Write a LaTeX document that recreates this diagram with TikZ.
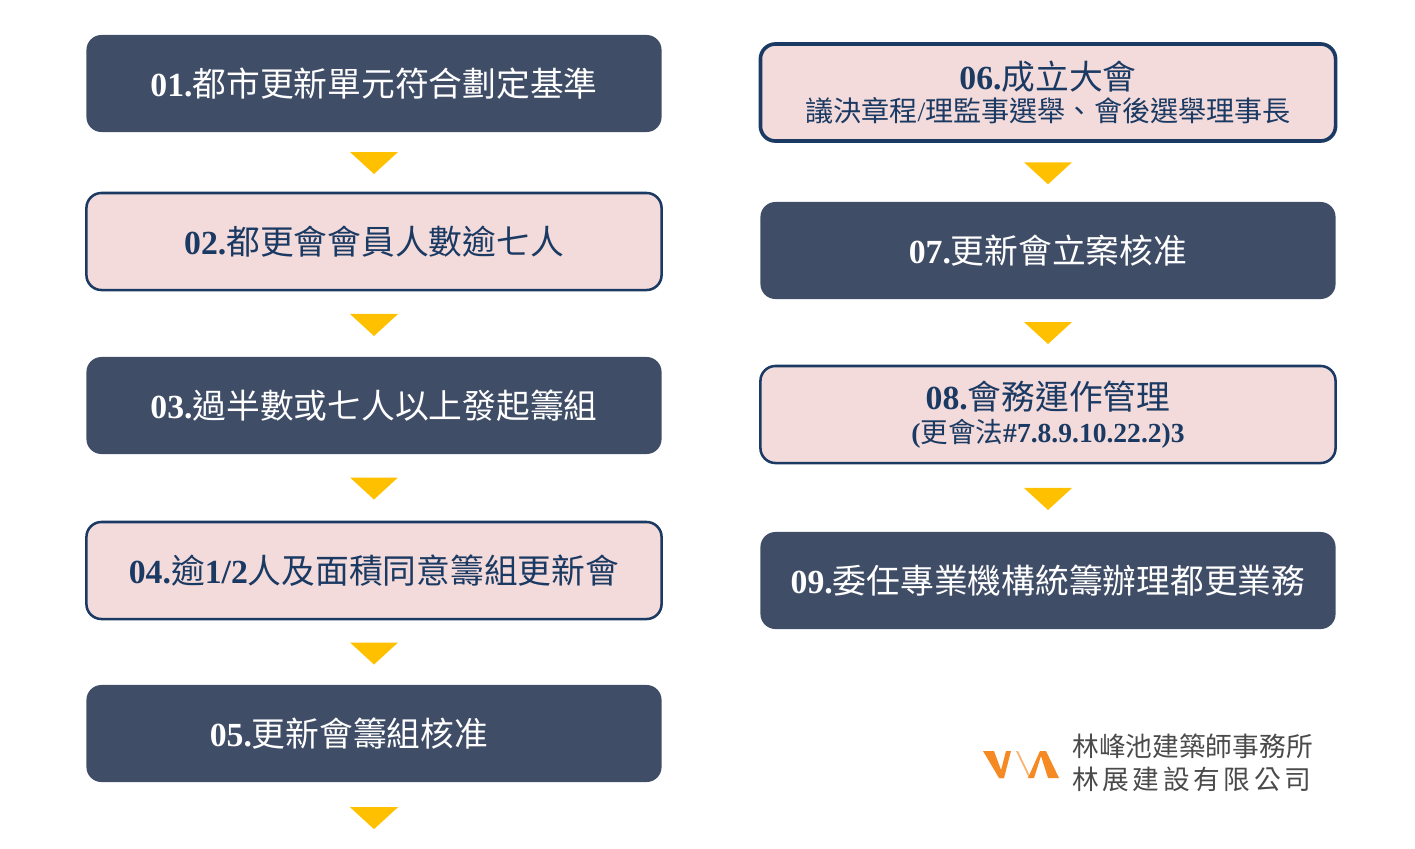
\documentclass[tikz,border=0pt]{standalone}
\usepackage{fontspec}
\setmainfont{Noto Sans CJK TC}
\newfontfamily\latinfont{Liberation Serif}[BoldFont={Liberation Serif Bold}]
\newcommand{\lat}[1]{{\latinfont\bfseries #1}}
\usetikzlibrary{calc}
\definecolor{darkbox}{HTML}{404D67}
\definecolor{pinkbox}{HTML}{F3DBDB}
\definecolor{navyline}{HTML}{1B3A63}
\definecolor{tipgold}{HTML}{FFC000}
\definecolor{logoorange}{HTML}{F58A24}
\definecolor{logogray}{HTML}{4A4A4A}
\tikzset{
	basebox/.style={rounded corners=15*0.025cm, minimum width=14.375cm, align=center, inner sep=0pt},
	darkstep/.style={basebox, fill=darkbox, text=white, minimum height=2.425cm, font=\fontsize{24}{28}\selectfont},
	pinkstep/.style={basebox, fill=pinkbox, draw=navyline, line width=1.8pt, text=navyline, minimum height=2.425cm, font=\fontsize{24}{28}\selectfont},
	downtip/.style={fill=tipgold},
	logotext/.style={text=logogray, anchor=west, inner sep=0pt}
}
\begin{document}
\begin{tikzpicture}[x=0.025cm,y=-0.025cm]
	\useasboundingbox (0,0) rectangle (1415,849);

	% Left column
	\node[darkstep] (box1) at (374,83.5) {\lat{01.}都市更新單元符合劃定基準};
	\node[pinkstep] (box2) at (374,241.5) {\lat{02.}都更會會員人數逾七人};
	\node[darkstep] (box3) at (374,405.5) {\lat{03.}過半數或七人以上發起籌組};
	\node[pinkstep] (box4) at (374,570.5) {\lat{04.}逾\lat{1/2}人及面積同意籌組更新會};
	\node[darkstep] (box5) at (374,733.5) {\lat{05.}更新會籌組核准\hspace{1.25cm}};

	% Right column
	\node[pinkstep, line width=2.6pt] (box6) at (1048,92.5) {\lat{06.}成立大會\\[-5pt]{\fontsize{20}{24}\selectfont 議決章程\lat{\mdseries /}理監事選舉、會後選舉理事長}};
	\node[darkstep] (box7) at (1048,250.5) {\lat{07.}更新會立案核准};
	\node[pinkstep] (box8) at (1048,414.5) {\lat{08.}會務運作管理\\[-5pt]{\fontsize{19.6}{22}\selectfont \lat{(}更會法\lat{\#7.8.9.10.22.2)3}}};
	\node[darkstep] (box9) at (1048,580.5) {\lat{09.}委任專業機構統籌辦理都更業務};

	% Arrows between the boxes
	\coordinate (boxend) at (374,852);
	\foreach \a/\b in {box1.south/box2.north,box2.south/box3.north,box3.south/box4.north,box4.south/box5.north,box5.south/boxend,box6.south/box7.north,box7.south/box8.north,box8.south/box9.north}
		\fill[downtip] ($(\a)!.5!(\b)+(-24,-10)$) -- ++(48,0) -- ++(-24,22) -- cycle;

	% Logo
	\fill[logoorange] (983,751) -- (994,751) -- (1004,778) -- (999,778) -- cycle;
	\fill[logoorange] (1006,751) -- (1011,751) -- (1004,778) -- (999,778) -- cycle;
	\fill[logoorange!65] (1016,751) -- (1018,751) -- (1031,778) -- (1029,778) -- cycle;
	\fill[logoorange] (1040,751) -- (1046,751) -- (1059,778) -- (1048,778) -- (1041,756) -- (1034,778) -- (1028,778) -- cycle;
	\node[logotext] (logoname) at (1072,746) {\fontsize{19}{21}\selectfont 林峰池建築師事務所};
	\node[logotext] (logocompany) at (1072,779) {\addfontfeature{LetterSpace=13.5}\fontsize{19}{21}\selectfont 林展建設有限公司};
\end{tikzpicture}
\end{document}
